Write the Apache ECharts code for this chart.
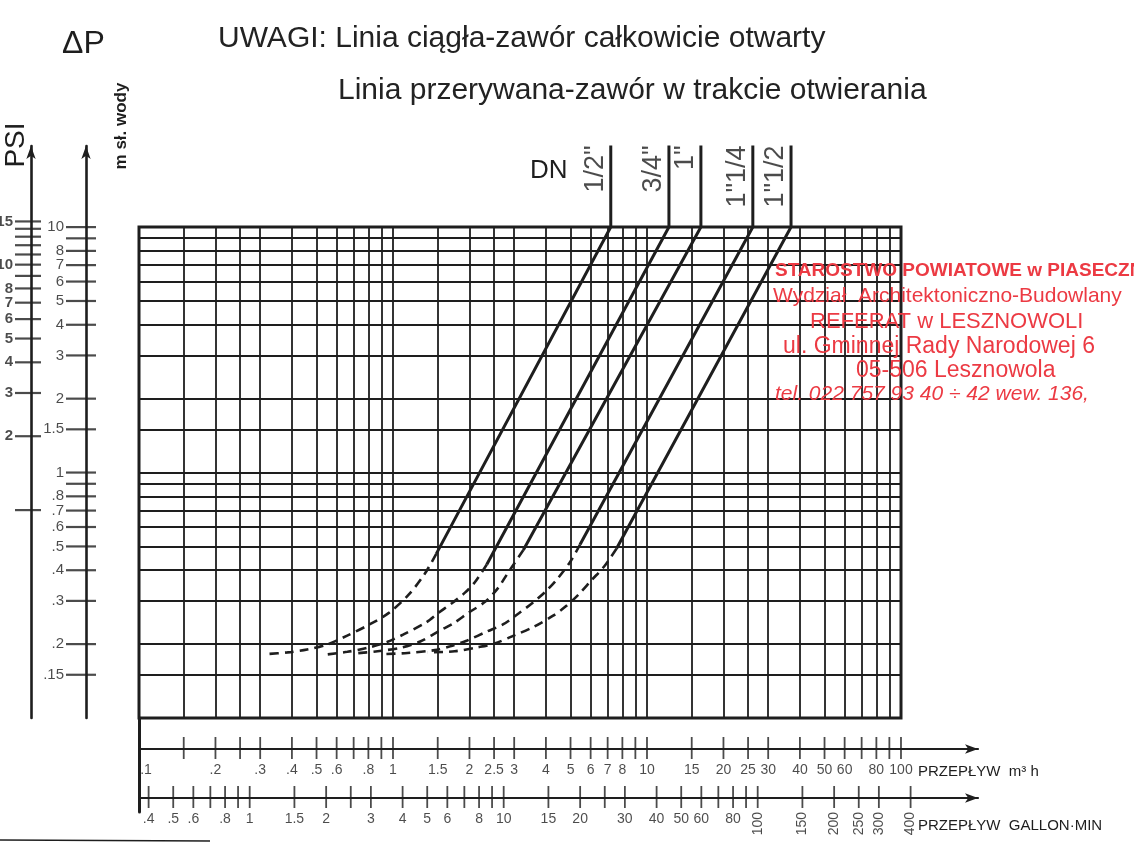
<!DOCTYPE html>
<html>
<head>
<meta charset="utf-8">
<script src="https://cdn.jsdelivr.net/npm/echarts@6.0.0/dist/echarts.min.js"></script>
<style>
  html, body { margin: 0; padding: 0; background: #fff; }
  #main { width: 1134px; height: 852px; }
</style>
</head>
<body>
<div id="main"></div>
<script>
var FONT = "'Liberation Sans', Arial, sans-serif";
var INK = '#1e1e1e';
var RED = '#ec3a43';

var GAL = 3.6662;   // 1 m3/h = 3.6662 UK gal/min
var PSI = 1.4223;   // 1 m H2O = 1.4223 psi
var Q_MAX = 201;    // flow arrows end here
var H_MAX = 21.4;   // pressure arrows end here
var DN_TOP = 21.5;  // top of the DN leader lines

// valve sizes
var dn = ['1/2"', '3/4"', '1"', '1"1/4', '1"1/2'];

// solid lines - valve fully open [m3/h, m H2O]
var ciagla12 = [[1.48, 0.466], [7.2, 10]];
var ciagla34 = [[2.34, 0.422], [12.2, 10]];
var ciagla1 = [[3.26, 0.483], [16.3, 10]];
var ciagla114 = [[5.45, 0.509], [26.1, 10]];
var ciagla112 = [[7.58, 0.489], [36.9, 10]];

// dashed lines - valve opening
var przer12 = [[1.48, 0.466], [1.33, 0.385], [1.15, 0.317], [0.963, 0.268], [0.806, 0.240], [0.657, 0.216], [0.550, 0.199], [0.459, 0.190], [0.384, 0.185], [0.314, 0.182]];
var przer34 = [[2.34, 0.422], [2.10, 0.357], [1.92, 0.324], [1.71, 0.294], [1.51, 0.268], [1.35, 0.245], [1.10, 0.219], [0.947, 0.204], [0.791, 0.193], [0.661, 0.186], [0.537, 0.181]];
var przer1 = [[3.26, 0.483], [2.82, 0.387], [2.59, 0.338], [2.31, 0.298], [1.99, 0.269], [1.73, 0.243], [1.53, 0.227], [1.28, 0.205], [1.09, 0.194], [0.869, 0.187], [0.693, 0.183]];
var przer114 = [[5.45, 0.509], [5.01, 0.436], [4.45, 0.370], [3.97, 0.326], [3.55, 0.295], [3.13, 0.267], [2.72, 0.241], [2.34, 0.225], [1.96, 0.207], [1.68, 0.196], [1.46, 0.189], [1.14, 0.184], [0.909, 0.182]];
var przer112 = [[7.58, 0.489], [6.78, 0.414], [6.06, 0.365], [5.37, 0.318], [4.79, 0.285], [4.27, 0.261], [3.58, 0.235], [3.00, 0.217], [2.51, 0.201], [2.15, 0.194], [1.75, 0.187], [1.37, 0.185]];

// grid lines
var siatkaQ = [0.15, 0.2, 0.25, 0.3, 0.4, 0.5, 0.6, 0.7, 0.8, 0.9, 1, 1.5, 2, 2.5, 3, 4, 5, 6, 7, 8, 9, 10, 15, 20, 25, 30, 40, 50, 60, 70, 80, 90];
var siatkaH = [0.15, 0.2, 0.3, 0.4, 0.5, 0.6, 0.7, 0.8, 0.9, 1, 1.5, 2, 3, 4, 5, 6, 7, 8, 9];

// scales
var podzialkaQ = [0.1, 0.15, 0.2, 0.25, 0.3, 0.4, 0.5, 0.6, 0.7, 0.8, 0.9, 1, 1.5, 2, 2.5, 3, 4, 5, 6, 7, 8, 9, 10, 15, 20, 25, 30, 40, 50, 60, 70, 80, 90, 100];
var opisyQ = [0.1, 0.2, 0.3, 0.4, 0.5, 0.6, 0.8, 1, 1.5, 2, 2.5, 3, 4, 5, 6, 7, 8, 10, 15, 20, 25, 30, 40, 50, 60, 80, 100];
var podzialkaGal = [0.4, 0.5, 0.6, 0.7, 0.8, 0.9, 1, 1.5, 2, 2.5, 3, 4, 5, 6, 7, 8, 9, 10, 15, 20, 25, 30, 40, 50, 60, 70, 80, 90, 100, 150, 200, 250, 300, 400];
var opisyGal = [0.4, 0.5, 0.6, 0.8, 1, 1.5, 2, 3, 4, 5, 6, 8, 10, 15, 20, 30, 40, 50, 60, 80, 100, 150, 200, 250, 300, 400];
var podzialkaM = [10, 9, 8, 7, 6, 5, 4, 3, 2, 1.5, 1, 0.9, 0.8, 0.7, 0.6, 0.5, 0.4, 0.3, 0.2, 0.15];
var opisyM = [10, 8, 7, 6, 5, 4, 3, 2, 1.5, 1, 0.8, 0.7, 0.6, 0.5, 0.4, 0.3, 0.2, 0.15];
var podzialkaPsi = [15, 14, 13, 12, 11, 10, 9, 8, 7, 6, 5, 4, 3, 2, 1];
var opisyPsi = [15, 10, 8, 7, 6, 5, 4, 3, 2];

var ciagle = [ciagla12, ciagla34, ciagla1, ciagla114, ciagla112];
var przerywane = [przer12, przer34, przer1, przer114, przer112];

function fmt(v) {
    return v < 1 ? String(v).replace(/^0/, '') : String(v);
}

var myChart = echarts.init(document.getElementById('main'));

var series = [];

// grid lines through the library's log scales
series.push({
    type: 'line', xAxisIndex: 0, yAxisIndex: 0, data: [], silent: true,
    markLine: {
        silent: true, symbol: ['none', 'none'], animation: false,
        label: { show: false },
        lineStyle: { color: INK, width: 1.8, type: 'solid' },
        data: siatkaQ.map(function (v) { return { xAxis: v }; })
            .concat(siatkaH.map(function (v) { return { yAxis: v }; }))
    }
});

ciagle.forEach(function (d) {
    series.push({
        type: 'line', xAxisIndex: 0, yAxisIndex: 0, symbol: 'none', clip: false, silent: true, z: 5,
        data: d.concat([[d[1][0], DN_TOP]]),
        lineStyle: { color: INK, width: 3 }
    });
});

przerywane.forEach(function (d) {
    series.push({
        type: 'line', xAxisIndex: 0, yAxisIndex: 0, symbol: 'none', clip: false, silent: true, z: 5,
        smooth: 0.3, data: d,
        lineStyle: { color: INK, width: 2.6, type: [9, 6] }
    });
});

// DN labels next to the leader lines
series.push({
    type: 'scatter', xAxisIndex: 0, yAxisIndex: 0, clip: false, silent: true, z: 6,
    symbolSize: 2, itemStyle: { color: 'rgba(0,0,0,0)' },
    data: dn.map(function (t, i) { return { name: t, value: [ciagle[i][1][0], DN_TOP] }; }),
    label: {
        show: true, formatter: '{b}', position: 'left', distance: 14, rotate: 90,
        align: 'right', verticalAlign: 'middle',
        fontSize: 27, fontFamily: FONT, color: INK
    }
});

// left pressure scales
function pionowa(idx, ticks, labels, opts) {
    return {
        type: 'scatter', xAxisIndex: idx, yAxisIndex: idx, silent: true, z: 6,
        symbol: 'rect', symbolSize: opts.size, symbolOffset: [opts.off, 0],
        itemStyle: { color: INK },
        data: ticks.map(function (v) {
            return { value: [0, v], label: { show: labels.indexOf(v) >= 0 } };
        }),
        label: {
            position: 'left', distance: 2, color: INK, fontFamily: FONT,
            fontSize: 15, fontWeight: opts.bold ? 'bold' : 'normal',
            formatter: function (p) { return fmt(p.value[1]); }
        }
    };
}
series.push(pionowa(1, podzialkaPsi, opisyPsi, { size: [26, 2.2], off: -3, bold: true }));
series.push(pionowa(2, podzialkaM, opisyM, { size: [30, 2.2], off: -5, bold: false }));

// bottom flow scales
function pozioma(idx, ticks, labels) {
    return {
        type: 'scatter', xAxisIndex: idx, yAxisIndex: idx, silent: true, z: 6,
        symbol: 'rect', symbolSize: [1.8, 22], symbolOffset: [0, -1],
        itemStyle: { color: INK },
        data: ticks.map(function (v, i) {
            var lab = { show: labels.indexOf(v) >= 0 };
            if (i === 0 && idx === 3) {
                lab.offset = [7, 0];
            }
            if (v >= 100 && idx === 4) {
                lab.rotate = 90; lab.align = 'right'; lab.verticalAlign = 'middle';
            }
            return { value: [v, 0], label: lab };
        }),
        label: {
            position: 'bottom', distance: 4, color: INK, fontFamily: FONT, fontSize: 14,
            formatter: function (p) { return fmt(p.value[0]); }
        }
    };
}
series.push(pozioma(3, podzialkaQ, opisyQ));
series.push(pozioma(4, podzialkaGal, opisyGal));

var arrowLine = {
    show: true, onZero: true, symbol: ['none', 'arrow'], symbolSize: [7, 13],
    lineStyle: { color: INK, width: 2.2 }
};
var hidden = { show: false };

var option = {
    animation: false,
    backgroundColor: '#ffffff',
    textStyle: { fontFamily: FONT },
    title: [
        {
            text: 'UWAGI: Linia ciągła-zawór całkowicie otwarty', left: 218, top: 24, padding: 0,
            textStyle: { fontSize: 30, fontWeight: 'normal', color: '#222', fontFamily: FONT }
        },
        {
            text: 'Linia przerywana-zawór w trakcie otwierania', left: 338, top: 76, padding: 0,
            textStyle: { fontSize: 30, fontWeight: 'normal', color: '#222', fontFamily: FONT }
        }
    ],
    grid: [
        { left: 139, top: 227, width: 762, height: 491, show: true, borderColor: INK, borderWidth: 3, backgroundColor: 'transparent' },
        { left: 21, top: 146, width: 20, height: 572 },
        { left: 76, top: 146, width: 20, height: 572 },
        { left: 139, top: 739, width: 839, height: 20 },
        { left: 139, top: 788, width: 839, height: 20 },
        { left: 139, top: 718, width: 10, height: 94 }
    ],
    xAxis: [
        { gridIndex: 0, type: 'log', min: 0.1, max: 100, show: false },
        { gridIndex: 1, type: 'value', min: -1, max: 1, show: false },
        { gridIndex: 2, type: 'value', min: -1, max: 1, show: false },
        { gridIndex: 3, type: 'log', min: 0.1, max: Q_MAX, axisLine: arrowLine, axisTick: hidden, axisLabel: hidden, splitLine: hidden },
        { gridIndex: 4, type: 'log', min: 0.1 * GAL, max: Q_MAX * GAL, axisLine: arrowLine, axisTick: hidden, axisLabel: hidden, splitLine: hidden },
        { gridIndex: 5, type: 'value', min: 0, max: 1, show: false }
    ],
    yAxis: [
        { gridIndex: 0, type: 'log', min: 0.1, max: 10, show: false },
        { gridIndex: 1, type: 'log', min: 0.1 * PSI, max: H_MAX * PSI, axisLine: { show: true, onZero: true, symbol: ['none', 'arrow'], symbolSize: [7, 13], lineStyle: { color: INK, width: 2.6 } }, axisTick: hidden, axisLabel: hidden, splitLine: hidden },
        { gridIndex: 2, type: 'log', min: 0.1, max: H_MAX, axisLine: { show: true, onZero: true, symbol: ['none', 'arrow'], symbolSize: [7, 13], lineStyle: { color: INK, width: 2.6 } }, axisTick: hidden, axisLabel: hidden, splitLine: hidden },
        { gridIndex: 3, type: 'value', min: -1, max: 1, show: false },
        { gridIndex: 4, type: 'value', min: -1, max: 1, show: false },
        { gridIndex: 5, type: 'value', min: 0, max: 1, axisLine: { show: true, onZero: true, lineStyle: { color: INK, width: 3 } }, axisTick: hidden, axisLabel: hidden, splitLine: hidden }
    ],
    graphic: [
        { type: 'text', left: 62, top: 28, style: { text: 'ΔP', font: '32px ' + FONT, fill: INK } },
        { type: 'text', x: 16, y: 145, rotation: Math.PI / 2, style: { text: 'PSI', font: '28px ' + FONT, fill: INK, align: 'center', verticalAlign: 'middle' } },
        { type: 'text', x: 121, y: 126, rotation: Math.PI / 2, style: { text: 'm sł. wody', font: 'bold 17px ' + FONT, fill: INK, align: 'center', verticalAlign: 'middle' } },
        { type: 'text', left: 530, top: 158, style: { text: 'DN', font: '26px ' + FONT, fill: INK } },
        { type: 'text', left: 918, top: 764, style: { text: 'PRZEPŁYW  m³ h', font: '15px ' + FONT, fill: INK } },
        { type: 'text', left: 918, top: 818, style: { text: 'PRZEPŁYW  GALLON·MIN', font: '15px ' + FONT, fill: INK } },
        { type: 'line', shape: { x1: 0, y1: 840, x2: 210, y2: 841 }, style: { stroke: INK, lineWidth: 1.5 } },
        // red stamp
        { type: 'text', left: 775, top: 261, z: 20, style: { text: 'STAROSTWO POWIATOWE w PIASECZNIE', font: 'bold 19px ' + FONT, fill: RED } },
        { type: 'text', left: 773, top: 286, z: 20, style: { text: 'Wydział  Architektoniczno-Budowlany', font: '21px ' + FONT, fill: RED } },
        { type: 'text', left: 810, top: 311, z: 20, style: { text: 'REFERAT w LESZNOWOLI', font: '22px ' + FONT, fill: RED } },
        { type: 'text', left: 783, top: 335, z: 20, style: { text: 'ul. Gminnej Rady Narodowej 6', font: '23px ' + FONT, fill: RED } },
        { type: 'text', left: 856, top: 359, z: 20, style: { text: '05-506 Lesznowola', font: '23px ' + FONT, fill: RED } },
        { type: 'text', left: 775, top: 384, z: 20, style: { text: 'tel. 022 757 93 40 ÷ 42 wew. 136,', font: 'italic 21px ' + FONT, fill: RED } }
    ],
    series: series
};

myChart.setOption(option);
</script>
</body>
</html>
